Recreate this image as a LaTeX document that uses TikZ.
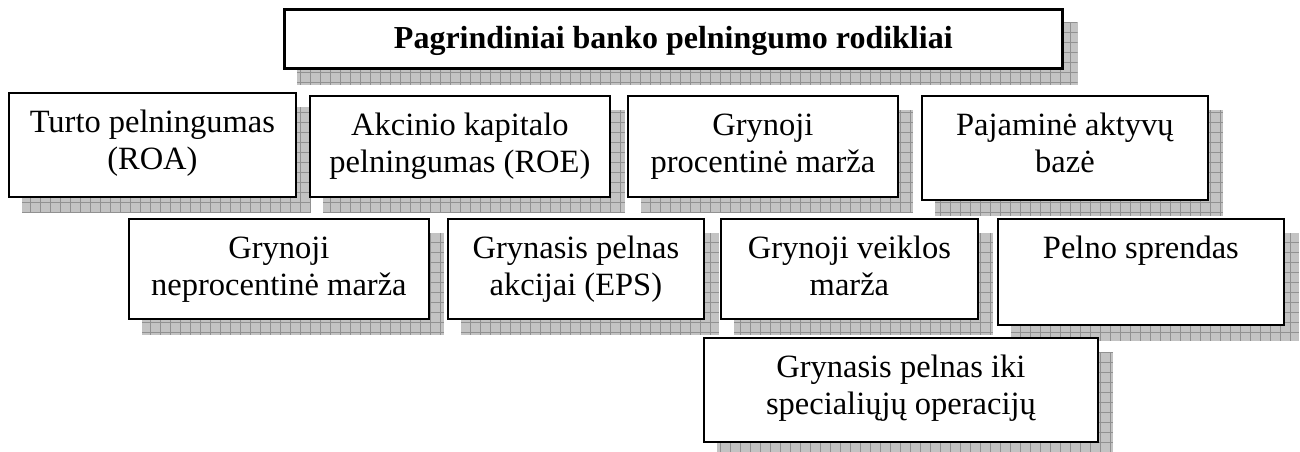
\documentclass[tikz,border=0pt]{standalone}
\usepackage{fontspec}
\setmainfont{Liberation Serif}
\usetikzlibrary{patterns.meta}
\pgfdeclarelayer{bg}
\pgfsetlayers{bg,main}
\definecolor{shadowfill}{RGB}{195,195,195}
\definecolor{gridgray}{RGB}{145,145,145}
\tikzset{
  box/.style={draw=black, fill=white, line width=1.8pt, inner sep=0pt, anchor=north west},
  titlebox/.style={box, line width=2.6pt},
  txt/.style={inner sep=0pt, anchor=north, align=center, font=\fontsize{32.5}{37}\selectfont},
  titletxt/.style={txt, font=\fontsize{32}{37}\selectfont\bfseries},
}
\newcommand\mkshadow[1]{%
  \begin{pgfonlayer}{bg}
    \fill[shadowfill] ([shift={(14pt,-15pt)}]#1.north west) rectangle ([shift={(14pt,-15pt)}]#1.south east);
    \fill[pattern={Hatch[angle=0,distance=10pt,line width=0.9pt]}, pattern color=gridgray]
      ([shift={(14pt,-15pt)}]#1.north west) rectangle ([shift={(14pt,-15pt)}]#1.south east);
  \end{pgfonlayer}}
\begin{document}
\begin{tikzpicture}[x=1pt,y=-1pt]
\useasboundingbox (0,0) rectangle (1300,452);
% boxes
\node[titlebox, minimum width=778pt, minimum height=59pt] (title) at (283,8) {};
\node[box, minimum width=287pt, minimum height=104pt] (roa) at (8,92) {};
\node[box, minimum width=300pt, minimum height=101pt] (roe) at (309,95) {};
\node[box, minimum width=270pt, minimum height=101pt] (gpm) at (627,95) {};
\node[box, minimum width=286pt, minimum height=104pt] (pab) at (921,95) {};
\node[box, minimum width=300pt, minimum height=100pt] (gnm) at (128,218) {};
\node[box, minimum width=256pt, minimum height=100pt] (eps) at (447,218) {};
\node[box, minimum width=257pt, minimum height=100pt] (gvm) at (720,218) {};
\node[box, minimum width=286pt, minimum height=106pt] (ps) at (997,218) {};
\node[box, minimum width=394pt, minimum height=104pt] (gpi) at (703,337) {};
\foreach \n in {title,roa,roe,gpm,pab,gnm,eps,gvm,ps,gpi} {\mkshadow{\n}}
% texts
\node[titletxt] (title-t) at ([yshift=-14pt]title.north) {\strut Pagrindiniai banko pelningumo rodikliai};
\node[txt] (roa-t) at ([yshift=-14pt]roa.north) {\strut Turto pelningumas\\(ROA)};
\node[txt] (roe-t) at ([yshift=-14pt]roe.north) {\strut Akcinio kapitalo\\pelningumas (ROE)};
\node[txt] (gpm-t) at ([yshift=-14pt]gpm.north) {\strut Grynoji\\procentinė marža};
\node[txt] (pab-t) at ([yshift=-14pt]pab.north) {\strut Pajaminė aktyvų\\bazė};
\node[txt] (gnm-t) at ([yshift=-14pt]gnm.north) {\strut Grynoji\\neprocentinė marža};
\node[txt] (eps-t) at ([yshift=-14pt]eps.north) {\strut Grynasis pelnas\\akcijai (EPS)};
\node[txt] (gvm-t) at ([yshift=-14pt]gvm.north) {\strut Grynoji veiklos\\marža};
\node[txt] (ps-t) at ([yshift=-14pt]ps.north) {\strut Pelno sprendas};
\node[txt] (gpi-t) at ([yshift=-14pt]gpi.north) {\strut Grynasis pelnas iki\\specialiųjų operacijų};
\end{tikzpicture}
\end{document}
